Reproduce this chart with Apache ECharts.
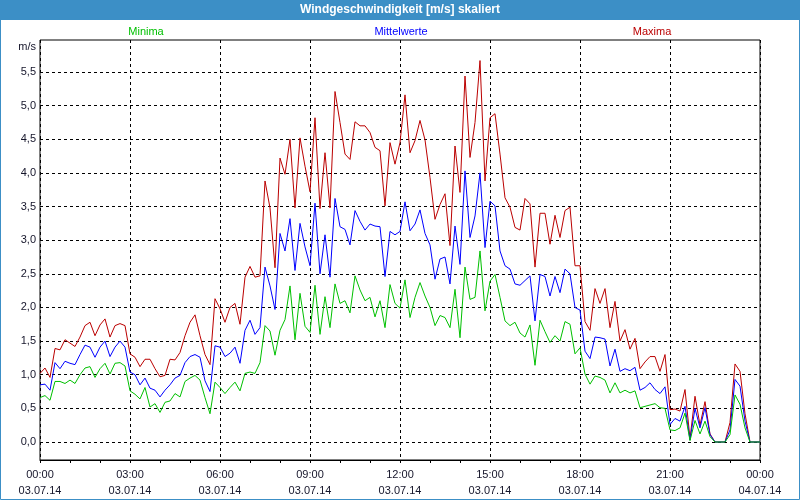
<!DOCTYPE html>
<html>
<head>
<meta charset="utf-8">
<script src="https://cdn.jsdelivr.net/npm/echarts@6/dist/echarts.min.js"></script>
<style>
html,body{margin:0;padding:0;background:#fff;}
#chart{width:800px;height:500px;}
</style>
</head>
<body>
<div id="chart"></div>
<script>
// ---- data (10-minute samples, 03.07.14 00:00 .. 04.07.14 00:00) ----
var titleText = 'Windgeschwindigkeit [m/s] skaliert';
var seriesNames = ['Minima', 'Mittelwerte', 'Maxima'];
var unitLabel = 'm/s';
var dateStart = '03.07.14';
var dateEnd = '04.07.14';
var yTicks = [0, 0.5, 1, 1.5, 2, 2.5, 3, 3.5, 4, 4.5, 5, 5.5];

var maxima = [1.02,1.10,0.96,1.39,1.37,1.52,1.47,1.42,1.56,1.73,1.78,1.58,1.74,1.83,1.56,1.73,1.76,1.73,1.31,1.26,
  1.12,1.23,1.23,1.09,0.97,0.99,1.23,1.22,1.33,1.58,1.78,1.89,1.58,1.30,1.15,2.13,1.98,1.78,2.00,2.06,
  1.75,2.45,2.61,2.45,2.47,3.88,3.48,2.59,4.22,3.98,4.50,3.48,4.52,4.10,3.72,4.82,3.47,4.30,3.48,5.21,
  4.75,4.28,4.20,4.76,4.70,4.70,4.60,4.38,4.33,3.51,4.45,4.13,4.45,5.16,4.30,4.48,4.78,4.49,3.93,3.31,
  3.53,3.69,2.92,4.40,3.71,5.44,4.23,4.75,5.67,3.88,4.82,4.88,4.28,3.63,3.49,3.19,3.15,3.62,3.54,2.60,
  3.40,3.40,2.94,3.37,3.04,3.44,3.49,2.62,2.62,1.79,1.66,2.28,2.06,2.28,1.70,2.09,1.50,1.67,1.38,1.54,
  1.09,1.19,1.27,1.27,1.05,1.30,0.48,0.49,0.46,0.78,0.05,0.68,0.25,0.60,0.12,0,0,0,0.29,1.16,
  1.05,0.42,0,0,0];

var mittelwerte = [0.85,0.86,0.77,1.18,1.09,1.20,1.17,1.15,1.30,1.44,1.41,1.26,1.41,1.50,1.27,1.41,1.50,1.41,1.04,1.00,
  0.85,0.95,0.80,0.77,0.67,0.77,0.85,0.95,0.99,1.18,1.27,1.30,1.26,0.91,0.75,1.43,1.41,1.27,1.32,1.41,
  1.17,1.66,1.81,1.60,1.70,2.60,2.32,1.97,3.10,2.84,3.32,2.55,3.25,2.90,2.62,3.55,2.50,3.08,2.45,3.62,
  3.20,3.16,2.93,3.44,3.28,3.15,3.24,3.21,3.20,2.46,3.13,3.08,3.13,3.57,3.14,3.24,3.45,3.10,2.93,2.42,
  2.72,2.75,2.35,3.21,2.64,4.03,3.04,3.36,4.00,2.89,3.58,3.51,2.84,2.62,2.57,2.35,2.33,2.40,2.47,1.80,
  2.49,2.46,2.17,2.46,2.22,2.57,2.50,2.00,1.96,1.35,1.24,1.56,1.55,1.53,1.13,1.38,1.05,1.09,1.06,1.11,
  0.77,0.81,0.88,0.78,0.72,0.82,0.26,0.35,0.31,0.53,0.03,0.50,0.21,0.51,0.11,0,0,0,0.18,0.93,
  0.83,0.31,0,0,0];

var minima = [0.66,0.69,0.62,0.90,0.90,0.87,0.92,0.87,1.00,1.10,1.12,0.96,1.09,1.17,1.01,1.17,1.18,1.13,0.76,0.71,
  0.64,0.81,0.52,0.57,0.44,0.59,0.61,0.72,0.67,0.90,0.95,0.99,0.92,0.66,0.42,0.89,0.81,0.72,0.81,0.89,
  0.76,1.02,1.04,1.02,1.18,1.73,1.65,1.29,1.66,1.82,2.32,1.52,2.21,1.72,1.63,2.33,1.60,2.16,1.70,2.35,
  2.06,2.10,1.92,2.47,2.26,2.10,2.15,1.86,2.10,1.70,2.34,2.06,1.99,2.41,1.85,2.15,2.37,2.17,2.00,1.73,
  1.88,1.85,1.70,2.27,1.55,2.60,2.12,2.15,2.84,1.95,2.39,2.49,2.15,1.80,1.73,1.78,1.62,1.56,1.74,1.14,
  1.81,1.64,1.48,1.58,1.50,1.79,1.75,1.31,1.40,1.01,0.86,0.98,0.96,0.92,0.73,0.88,0.73,0.77,0.73,0.76,
  0.51,0.53,0.55,0.57,0.51,0.50,0.18,0.17,0.21,0.43,0.02,0.32,0.12,0.31,0.08,0,0,0,0.11,0.70,
  0.56,0.21,0,0,0];

// time categories (10-minute steps)
var times = [];
for (var i = 0; i < maxima.length; i++) {
  var m = (i * 10) % (24 * 60);
  var hh = Math.floor(m / 60), mm = m % 60;
  times.push((hh < 10 ? '0' : '') + hh + ':' + (mm < 10 ? '0' : '') + mm);
}

var FONT = '"Liberation Sans", Arial, sans-serif';
var TXT = '#15152a';
var chart = echarts.init(document.getElementById('chart'), null, {renderer: 'canvas'});
var dash = [3, 3];

chart.setOption({
  animation: false,
  backgroundColor: '#ffffff',
  textStyle: {fontFamily: FONT},
  grid: [
    {left: 40, top: 40, width: 720, height: 420, show: true, borderColor: '#000', borderWidth: 1, backgroundColor: 'transparent', containLabel: false},
    {left: 40, top: 72, width: 720, height: 370, containLabel: false}
  ],
  xAxis: [
    {
      type: 'category', gridIndex: 0, data: times, boundaryGap: false,
      axisLine: {show: true, lineStyle: {color: '#000', width: 1}},
      axisTick: {show: true, interval: 5, length: 3, lineStyle: {color: '#000'}},
      axisLabel: {
        interval: 17, margin: 7, color: TXT, fontFamily: FONT, fontSize: 11, lineHeight: 16,
        formatter: function (v, idx) { return v + '\n' + (idx === times.length - 1 ? dateEnd : dateStart); }
      },
      splitLine: {show: true, interval: 17, lineStyle: {color: '#000', type: dash, width: 1}}
    },
    {type: 'category', gridIndex: 1, data: times, boundaryGap: false, show: false}
  ],
  yAxis: [
    {type: 'value', gridIndex: 0, min: 0, max: 1, show: false, splitLine: {show: false}},
    {
      type: 'value', gridIndex: 1, min: yTicks[0], max: yTicks[yTicks.length - 1], interval: 0.5,
      axisLine: {show: false}, axisTick: {show: false},
      axisLabel: {margin: 4, color: TXT, fontFamily: FONT, fontSize: 11,
        formatter: function (v) { return v.toFixed(1).replace('.', ','); }},
      splitLine: {show: true, lineStyle: {color: '#000', type: dash, width: 1}}
    }
  ],
  series: [
    {name: seriesNames[2], type: 'line', xAxisIndex: 1, yAxisIndex: 1, data: maxima, clip: false,
      symbol: 'none', lineStyle: {color: '#bb0000', width: 1}, itemStyle: {color: '#bb0000'}},
    {name: seriesNames[1], type: 'line', xAxisIndex: 1, yAxisIndex: 1, data: mittelwerte, clip: false,
      symbol: 'none', lineStyle: {color: '#0000ff', width: 1}, itemStyle: {color: '#0000ff'}},
    {name: seriesNames[0], type: 'line', xAxisIndex: 1, yAxisIndex: 1, data: minima, clip: false,
      symbol: 'none', lineStyle: {color: '#00c000', width: 1}, itemStyle: {color: '#00c000'}}
  ],
  graphic: [
    {type: 'rect', left: 0, top: 0, shape: {width: 800, height: 20}, style: {fill: '#3c8fc6'}, silent: true},
    {type: 'text', x: 400, y: 10, style: {text: titleText, fill: '#ffffff', font: 'bold 12px ' + FONT, textAlign: 'center', textVerticalAlign: 'middle'}},
    {type: 'rect', shape: {x: 0.5, y: 0.5, width: 799, height: 499}, style: {fill: 'none', stroke: '#3c8fc6', lineWidth: 1}, silent: true},
    {type: 'text', x: 146, y: 32, style: {text: seriesNames[0], fill: '#00c000', font: '11px ' + FONT, textAlign: 'center', textVerticalAlign: 'middle'}},
    {type: 'text', x: 401, y: 32, style: {text: seriesNames[1], fill: '#0000ff', font: '11px ' + FONT, textAlign: 'center', textVerticalAlign: 'middle'}},
    {type: 'text', x: 652, y: 32, style: {text: seriesNames[2], fill: '#bb0000', font: '11px ' + FONT, textAlign: 'center', textVerticalAlign: 'middle'}},
    {type: 'text', x: 36, y: 47, style: {text: unitLabel, fill: TXT, font: '11px ' + FONT, textAlign: 'right', textVerticalAlign: 'middle'}}
  ]
});
</script>
</body>
</html>
